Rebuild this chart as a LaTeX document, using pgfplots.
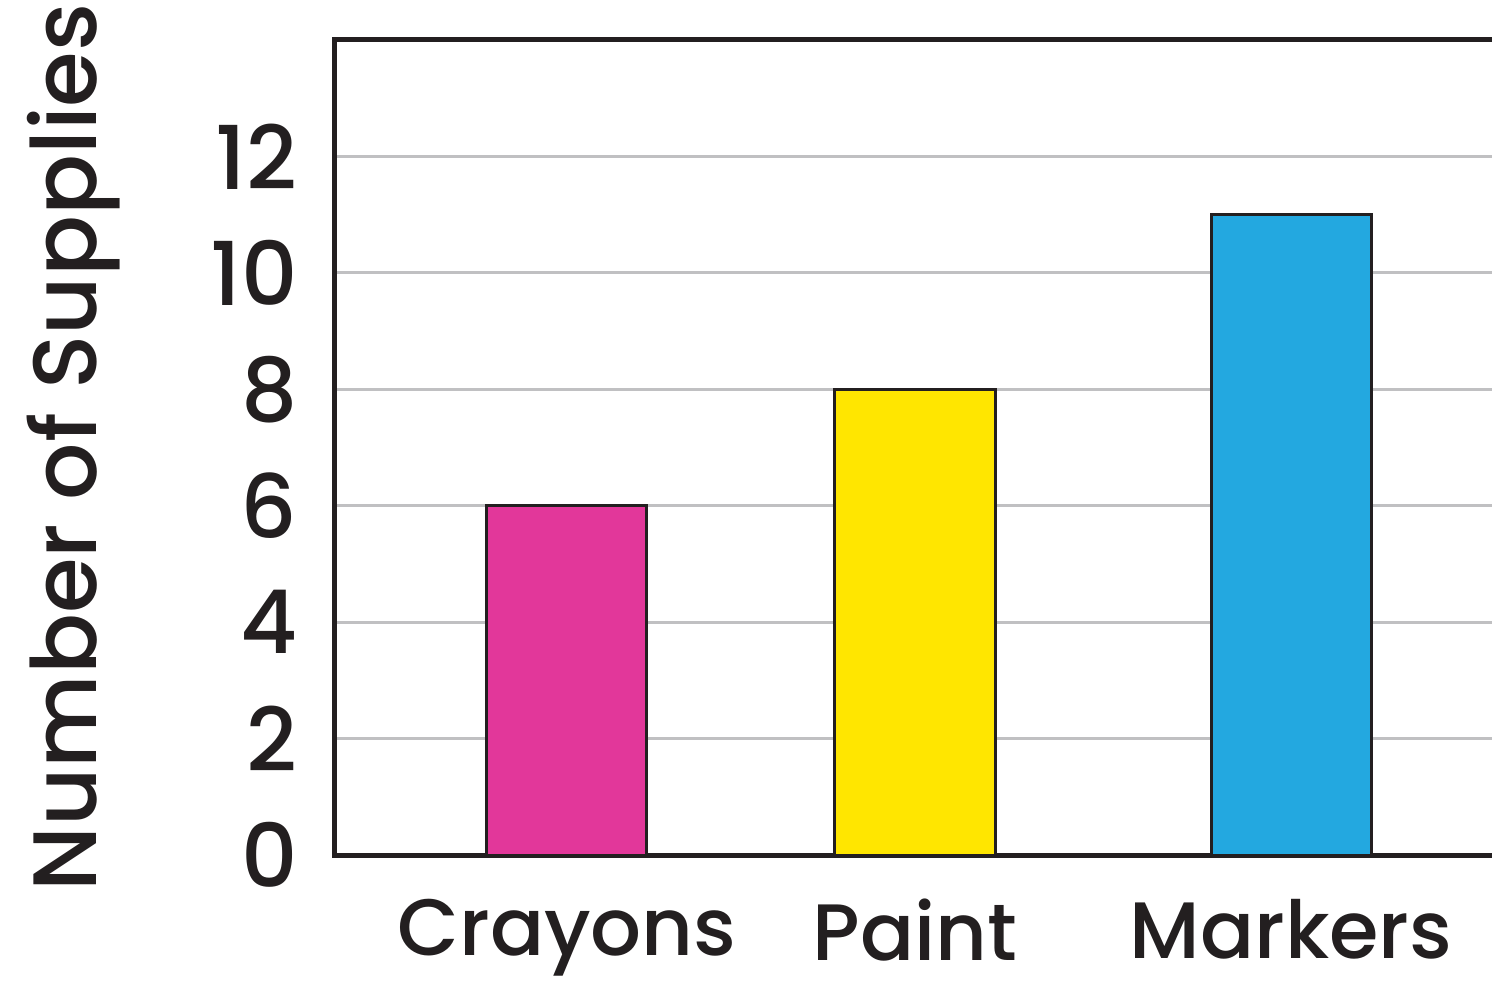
\documentclass[border=0pt]{standalone}
\usepackage{fontspec}
\setmainfont{Poppins Medium}
\usepackage{pgfplots}
\pgfplotsset{compat=1.18}

\definecolor{crayonpink}{HTML}{E2379A}
\definecolor{paintyellow}{HTML}{FFE600}
\definecolor{markerblue}{HTML}{23A8E0}
\definecolor{ink}{HTML}{231F20}
\definecolor{gridgray}{HTML}{C0C0C2}

\begin{document}
\begin{tikzpicture}
  \begin{axis}[
    at={(0pt,0pt)}, anchor=south west,
    scale only axis,
    width=1157pt, height=815pt,
    xmin=0, xmax=1157,
    ymin=0, ymax=14,
    axis x line*=bottom,
    axis y line*=left,
    axis line style={ink, line width=5pt, line cap=rect},
    xtick={232,580,956},
    xticklabels={Crayons,Paint,Markers},
    ytick={0,2,...,12},
    major tick length=0pt,
    ymajorgrids=true,
    major grid style={gridgray, line width=3pt},
    extra y ticks={14},
    extra y tick labels={},
    extra y tick style={grid=major, major grid style={ink, line width=5pt}},
    /pgf/number format/assume math mode=true,
    tick label style={font=\fontsize{80}{90}\selectfont, text=ink},
    yticklabel style={xshift=-34pt, font=\fontsize{88}{96}\selectfont},
    xticklabel style={yshift=-44pt, inner sep=0pt},
    ylabel={Number of Supplies},
    every axis y label/.style={at={(axis description cs:-0.2057,0.5)}, rotate=90,
      anchor=base, font=\fontsize{90}{100}\selectfont, text=ink},
    clip=false,
  ]
    \addplot[ybar, bar width=160, draw=ink, line width=3pt, fill=crayonpink]
      coordinates {(232,6)};
    \addplot[ybar, bar width=160, draw=ink, line width=3pt, fill=paintyellow]
      coordinates {(580,8)};
    \addplot[ybar, bar width=160, draw=ink, line width=3pt, fill=markerblue]
      coordinates {(956,11)};
  \end{axis}
  \pgfresetboundingbox
  \path[use as bounding box] (-335pt,-139pt) rectangle (1157pt,855pt);
\end{tikzpicture}
\end{document}
